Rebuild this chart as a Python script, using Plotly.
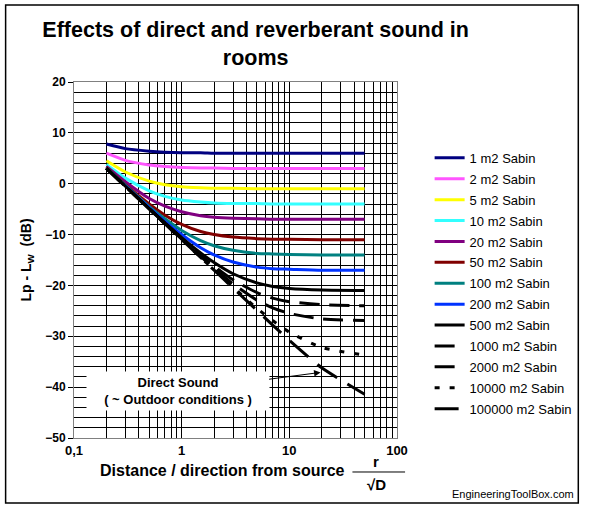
import math
import plotly.graph_objects as go

# distance r / sqrt(D)
distance = [0.2, 0.3, 0.5, 0.7, 1, 1.5, 2, 3, 5, 7, 10, 20, 50]

# Lp - Lw (dB) for each room absorption (m2 Sabin)
sabin_1 = [7.8, 6.9, 6.4, 6.2, 6.1, 6.1, 6.0, 6.0, 6.0, 6.0, 6.0, 6.0, 6.0]
sabin_2 = [6.0, 4.6, 3.7, 3.4, 3.2, 3.1, 3.1, 3.0, 3.0, 3.0, 3.0, 3.0, 3.0]
sabin_5 = [4.5, 2.3, 0.5, -0.2, -0.6, -0.8, -0.9, -0.9, -1.0, -1.0, -1.0, -1.0, -1.0]
sabin_10 = [3.8, 1.1, -1.4, -2.5, -3.2, -3.6, -3.8, -3.9, -3.9, -4.0, -4.0, -4.0, -4.0]
sabin_20 = [3.4, 0.4, -2.9, -4.4, -5.5, -6.3, -6.6, -6.8, -6.9, -7.0, -7.0, -7.0, -7.0]
sabin_50 = [3.2, -0.2, -4.0, -6.2, -8.0, -9.4, -10.0, -10.5, -10.8, -10.9, -10.9, -11.0, -11.0]
sabin_100 = [3.1, -0.3, -4.5, -6.9, -9.2, -11.2, -12.2, -13.1, -13.7, -13.8, -13.9, -14.0, -14.0]
sabin_200 = [3.0, -0.4, -4.7, -7.4, -10.0, -12.6, -14.0, -15.4, -16.4, -16.7, -16.8, -17.0, -17.0]
sabin_500 = [3.0, -0.5, -4.9, -7.7, -10.6, -13.6, -15.5, -17.7, -19.5, -20.2, -20.6, -20.9, -21.0]
sabin_1000 = [3.0, -0.5, -4.9, -7.8, -10.8, -14.1, -16.2, -18.9, -21.4, -22.5, -23.2, -23.8, -24.0]
sabin_2000 = [3.0, -0.5, -5.0, -7.8, -10.9, -14.3, -16.6, -19.7, -22.9, -24.4, -25.5, -26.6, -26.9]
sabin_10000 = [3.0, -0.5, -5.0, -7.9, -11.0, -14.5, -16.9, -20.3, -24.5, -26.9, -29.2, -32.2, -33.7]
sabin_100000 = [3.0, -0.5, -5.0, -7.9, -11.0, -14.5, -17.0, -20.5, -24.9, -27.8, -30.8, -36.2, -41.4]

series = [
    ("1 m2 Sabin", sabin_1, "#000080", "solid"),
    ("2 m2 Sabin", sabin_2, "#FF55FF", "solid"),
    ("5 m2 Sabin", sabin_5, "#FFFF00", "solid"),
    ("10 m2 Sabin", sabin_10, "#33FFFF", "solid"),
    ("20 m2 Sabin", sabin_20, "#800080", "solid"),
    ("50 m2 Sabin", sabin_50, "#800000", "solid"),
    ("100 m2 Sabin", sabin_100, "#008080", "solid"),
    ("200 m2 Sabin", sabin_200, "#0033FF", "solid"),
    ("500 m2 Sabin", sabin_500, "#000000", "solid"),
    ("1000 m2 Sabin", sabin_1000, "#000000", "20px,10px"),
    ("2000 m2 Sabin", sabin_2000, "#000000", "20px,10px"),
    ("10000 m2 Sabin", sabin_10000, "#000000", "5px,10px"),
    ("100000 m2 Sabin", sabin_100000, "#000000", "24px,12px"),
]

x_ticks = [0.1, 0.2, 0.3, 0.4, 0.5, 0.6, 0.7, 0.8, 0.9,
           1, 2, 3, 4, 5, 6, 7, 8, 9,
           10, 20, 30, 40, 50, 60, 70, 80, 90, 100]
x_labels = ["<b>0,1</b>"] + [""] * 8 + ["<b>1</b>"] + [""] * 8 + ["<b>10</b>"] + [""] * 8 + ["<b>100</b>"]

fig = go.Figure()
for name, vals, color, dash in series:
    fig.add_trace(go.Scatter(x=distance, y=vals, name=name, mode="lines", legendgroup=name,
                             line=dict(color=color, width=3, dash=dash, shape="spline", smoothing=0.6)))

fig.update_layout(
    width=589, height=508,
    margin=dict(l=74, r=189, t=82, b=70),
    paper_bgcolor="white", plot_bgcolor="white",
    font=dict(family="Arial, Liberation Sans", color="black"),
    title=dict(text="<b>Effects of direct and reverberant sound in<br>rooms</b>",
               x=0.434, xanchor="center", y=0.927, yanchor="middle",
               font=dict(size=21.5)),
    legend=dict(x=1.101, y=0.829, xanchor="left", yanchor="top",
                font=dict(size=13), bgcolor="rgba(0,0,0,0)", tracegroupgap=1),
    showlegend=True,
)

fig.update_xaxes(type="log", range=[-1, 2], tickvals=x_ticks, ticktext=x_labels,
                 showgrid=True, gridcolor="black", gridwidth=1,
                 showline=True, linecolor="#808080", mirror=True,
                 tickfont=dict(size=13), ticks="")
fig.update_yaxes(range=[-50, 20], dtick=10, showgrid=True, gridcolor="black", gridwidth=1,
                 minor=dict(dtick=2, showgrid=True, gridcolor="black", gridwidth=1),
                 showline=True, linecolor="#808080", mirror=True, zeroline=False,
                 tickfont=dict(size=12), ticks="outside", ticklen=5, tickcolor="black",
                 tickprefix="<b>", ticksuffix="</b>",
                 title=dict(text="<b>Lp - L<sub>W</sub>  (dB)</b>", font=dict(size=14), standoff=10))

# outer chart border
fig.add_shape(type="rect", xref="paper", yref="paper",
              x0=-0.2117, x1=1.5613, y0=-0.1826, y1=1.2163,
              line=dict(color="black", width=1.5))

# x axis title with r / sqrt(D) fraction
fig.add_annotation(xref="paper", yref="paper", x=0.46, y=-0.09, xanchor="center", yanchor="middle",
                   showarrow=False, text="<b>Distance / direction from source</b>", font=dict(size=16))
fig.add_annotation(xref="paper", yref="paper", x=0.935, y=-0.067, xanchor="center", yanchor="middle",
                   showarrow=False, text="<b>r</b>", font=dict(size=15))
fig.add_annotation(xref="paper", yref="paper", x=0.935, y=-0.132, xanchor="center", yanchor="middle",
                   showarrow=False, text="<b>√D</b>", font=dict(size=15))
fig.add_shape(type="line", xref="paper", yref="paper", x0=0.862, x1=1.025, y0=-0.0955, y1=-0.0955,
              line=dict(color="black", width=1))

# direct sound label, arrow pointing at the direct-sound line (log axis -> log10 position)
fig.add_annotation(x=math.log10(19.5), y=-37.1, ax=-143, ay=19, axref="pixel", ayref="pixel",
                   showarrow=True, arrowhead=2, arrowsize=1.3, arrowwidth=1, arrowcolor="black",
                   text="<b>Direct Sound<br>( ~ Outdoor conditions )</b>",
                   font=dict(size=13), bgcolor="white", borderpad=3, width=176)

fig.add_annotation(xref="paper", yref="paper", x=1.359, y=-0.157, xanchor="center", yanchor="middle",
                   showarrow=False, text="EngineeringToolBox.com", font=dict(size=11))

fig.write_html("out.html", config={"displayModeBar": False},
               post_script="document.body.style.margin = '0px';")
